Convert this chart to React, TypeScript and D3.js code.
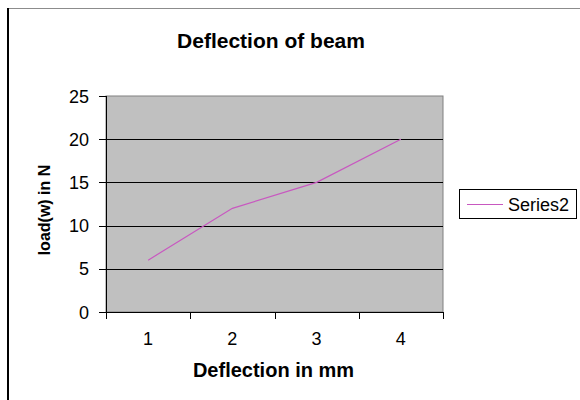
import React from "react";
import * as d3 from "d3";

const categories = ["1", "2", "3", "4"];
const series2 = [6, 12, 15, 20];
const yTicks = [0, 5, 10, 15, 20, 25];
const seriesName = "Series2";
const title = "Deflection of beam";
const xTitle = "Deflection in mm";
const yTitle = "load(w) in N";

export default function App() {
  const W = 580, H = 400;
  const left = 106, right = 443, top = 96, bottom = 312;
  const x = d3.scaleBand<string>().domain(categories).range([left, right]).paddingInner(0).paddingOuter(0);
  const y = d3.scaleLinear().domain([0, 25]).range([bottom, top]);
  const line = d3
    .line<number>()
    .x((_, i) => (x(categories[i]) as number) + x.bandwidth() / 2)
    .y((d) => y(d));
  const font = "'Liberation Sans', Arial, sans-serif";
  const boundaries = [...categories.map((c) => x(c) as number), right];
  return (
    <svg
      width={W}
      height={H}
      style={{ position: "absolute", left: 0, top: 0, background: "#fff" }}
      fontFamily={font}
    >
      <rect x={0} y={0} width={W} height={H} fill="#fff" />
      {/* outer frame */}
      <line x1={7} x2={W} y1={8.5} y2={8.5} stroke="#8c8c8c" strokeWidth={1} />
      <line x1={8} x2={8} y1={8} y2={H} stroke="#000" strokeWidth={2} />

      <text x={271} y={48} textAnchor="middle" fontSize={21} fontWeight="bold" fill="#000">
        {title}
      </text>

      {/* plot area */}
      <rect x={left} y={top} width={right - left} height={bottom - top} fill="#c0c0c0" stroke="#808080" strokeWidth={1} />
      {yTicks.filter((t) => t !== 0 && t !== 25).map((t) => (
        <line key={"g" + t} x1={left} x2={right} y1={Math.round(y(t)) + 0.5} y2={Math.round(y(t)) + 0.5} stroke="#000" strokeWidth={1} />
      ))}
      {/* axes */}
      <line x1={left + 0.5} x2={left + 0.5} y1={top} y2={bottom + 0.5} stroke="#000" strokeWidth={1} />
      <line x1={left} x2={right + 0.5} y1={bottom + 0.5} y2={bottom + 0.5} stroke="#000" strokeWidth={1} />
      {yTicks.map((t) => (
        <g key={"y" + t}>
          <line x1={left - 7} x2={left} y1={Math.round(y(t)) + 0.5} y2={Math.round(y(t)) + 0.5} stroke="#000" />
          <text x={89} y={y(t) + 6.5} textAnchor="end" fontSize={18} fill="#000">
            {t}
          </text>
        </g>
      ))}
      {boundaries.map((b, i) => (
        <line key={"xt" + i} x1={Math.round(b) + 0.5} x2={Math.round(b) + 0.5} y1={bottom} y2={bottom + 7} stroke="#000" />
      ))}
      {categories.map((c) => (
        <text key={"xl" + c} x={(x(c) as number) + x.bandwidth() / 2} y={344.5} textAnchor="middle" fontSize={18} fill="#000">
          {c}
        </text>
      ))}

      <path d={line(series2) || ""} fill="none" stroke="#c858c0" strokeWidth={1.2} />

      <text x={273.5} y={376.5} textAnchor="middle" fontSize={20} fontWeight="bold" fill="#000">
        {xTitle}
      </text>
      <text transform="translate(50,210) rotate(-90)" textAnchor="middle" fontSize={16} fontWeight="bold" fill="#000">
        {yTitle}
      </text>

      {/* legend */}
      <rect x={459.5} y={189.5} width={117} height={29} fill="#fff" stroke="#000" strokeWidth={1} />
      <line x1={467} x2={503} y1={204.5} y2={204.5} stroke="#c858c0" strokeWidth={1.2} />
      <text x={508} y={210.7} fontSize={18} fill="#000">
        {seriesName}
      </text>
    </svg>
  );
}
